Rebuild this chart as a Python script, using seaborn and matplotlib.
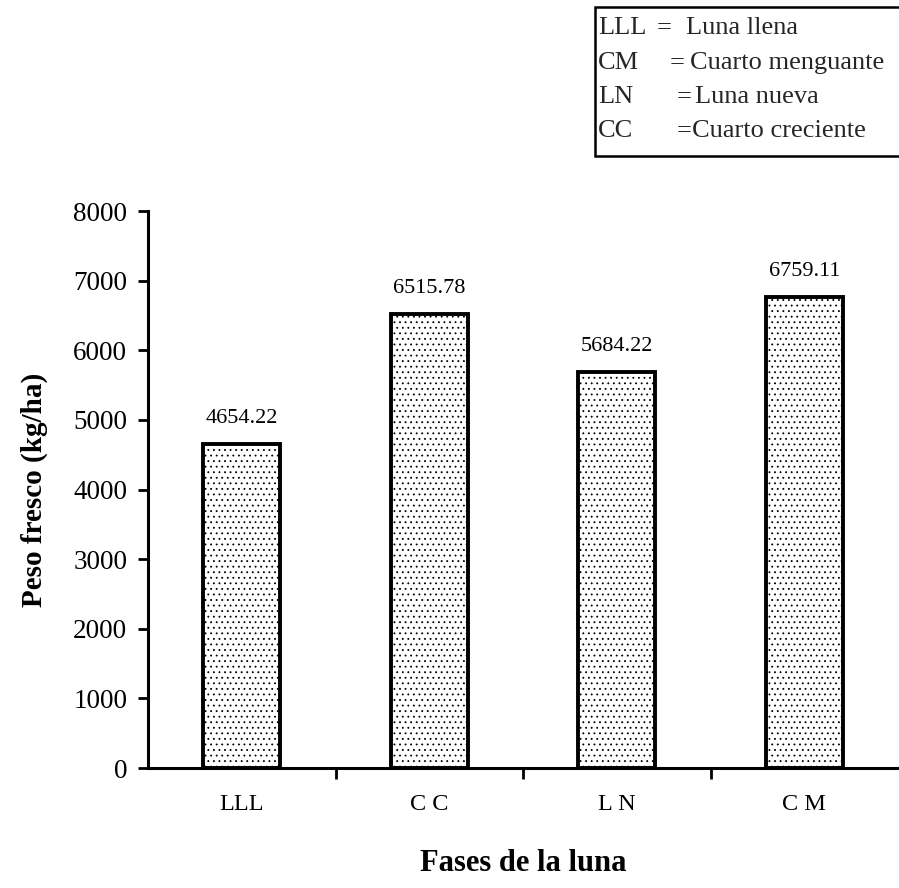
import matplotlib
matplotlib.use("Agg")
import matplotlib.pyplot as plt
import seaborn as sns
import pandas as pd
from matplotlib.patches import Rectangle

# Fresh weight by moon phase at planting
fases = ["LLL", "C C", "L N", "C M"]
peso_fresco = [4654.22, 6515.78, 5684.22, 6759.11]
y_ticks = [0, 1000, 2000, 3000, 4000, 5000, 6000, 7000, 8000]
leyenda_abrev = ["LLL", "CM", "LN", "CC"]
leyenda_texto = ["Luna llena", "Cuarto menguante", "Luna nueva", "Cuarto creciente"]

sns.set_theme(style="white")
plt.rcParams["font.family"] = ["Liberation Serif", "DejaVu Serif"]
plt.rcParams["hatch.color"] = "#a0a0a0"
plt.rcParams["hatch.linewidth"] = 0.6

df = pd.DataFrame({"fase": fases, "peso": peso_fresco})

fig = plt.figure(figsize=(8.99, 8.88), dpi=100)
ax = fig.add_axes([148 / 899, 1 - 768 / 888, 750 / 899, (768 - 211) / 888])

sns.barplot(data=df, x="fase", y="peso", order=fases, width=0.41,
            color="white", edgecolor="black", linewidth=2.8, ax=ax,
            saturation=1)
for p in ax.patches:
    p.set_hatch("...")
    p.set_facecolor("white")

# value labels above each bar
for i, v in enumerate(peso_fresco):
    ax.text(i, v + 230, f"{v:.2f}", ha="center", va="bottom", fontsize=16,
            color="black")

ax.set_xlim(-0.5, len(fases) - 0.5)
ax.set_ylim(0, 8000)
ax.set_yticks(y_ticks)
ax.set_yticklabels([str(t) for t in y_ticks], fontsize=19.5)

# tick marks between categories, labels centred under bars
ax.set_xticks([i + 0.5 for i in range(len(fases) - 1)])
ax.set_xticklabels([])
ax.set_xticks(range(len(fases)), minor=True)
ax.set_xticklabels(fases, minor=True, fontsize=17.5)
ax.tick_params(axis="x", which="major", direction="out", length=8, width=2,
               colors="black", bottom=True)
ax.tick_params(axis="x", which="minor", length=0, pad=19, labelcolor="black")
ax.tick_params(axis="y", direction="out", length=7, width=2, colors="black",
               left=True, pad=8)

for s in ["top", "right"]:
    ax.spines[s].set_visible(False)
for s in ["left", "bottom"]:
    ax.spines[s].set_linewidth(2.2)
    ax.spines[s].set_color("black")

ax.set_xlabel("Fases de la luna", fontsize=22, fontweight="bold", labelpad=24,
              color="black")
ax.set_ylabel("Peso fresco (kg/ha)", fontsize=21, fontweight="bold",
              labelpad=18, color="black")

# abbreviation key in the upper right corner
fig.patches.append(Rectangle((595 / 899, 1 - 156 / 888), 310 / 899, 149 / 888,
                             transform=fig.transFigure, facecolor="white",
                             edgecolor="black", linewidth=1.8))
rows_y = [28, 63, 97, 131]
eq_x = [657, 670, 677, 677]
txt_x = [686, 690, 695, 692]
for ab, tx, yy, ex, tx_x in zip(leyenda_abrev, leyenda_texto, rows_y, eq_x, txt_x):
    fig.text(598 / 899, 1 - yy / 888, ab, ha="left", va="center", fontsize=19)
    fig.text(ex / 899, 1 - yy / 888, "=", ha="left", va="center", fontsize=19)
    fig.text(tx_x / 899, 1 - yy / 888, tx, ha="left", va="center", fontsize=19)

fig.savefig("out.png", dpi=100, facecolor="white")
